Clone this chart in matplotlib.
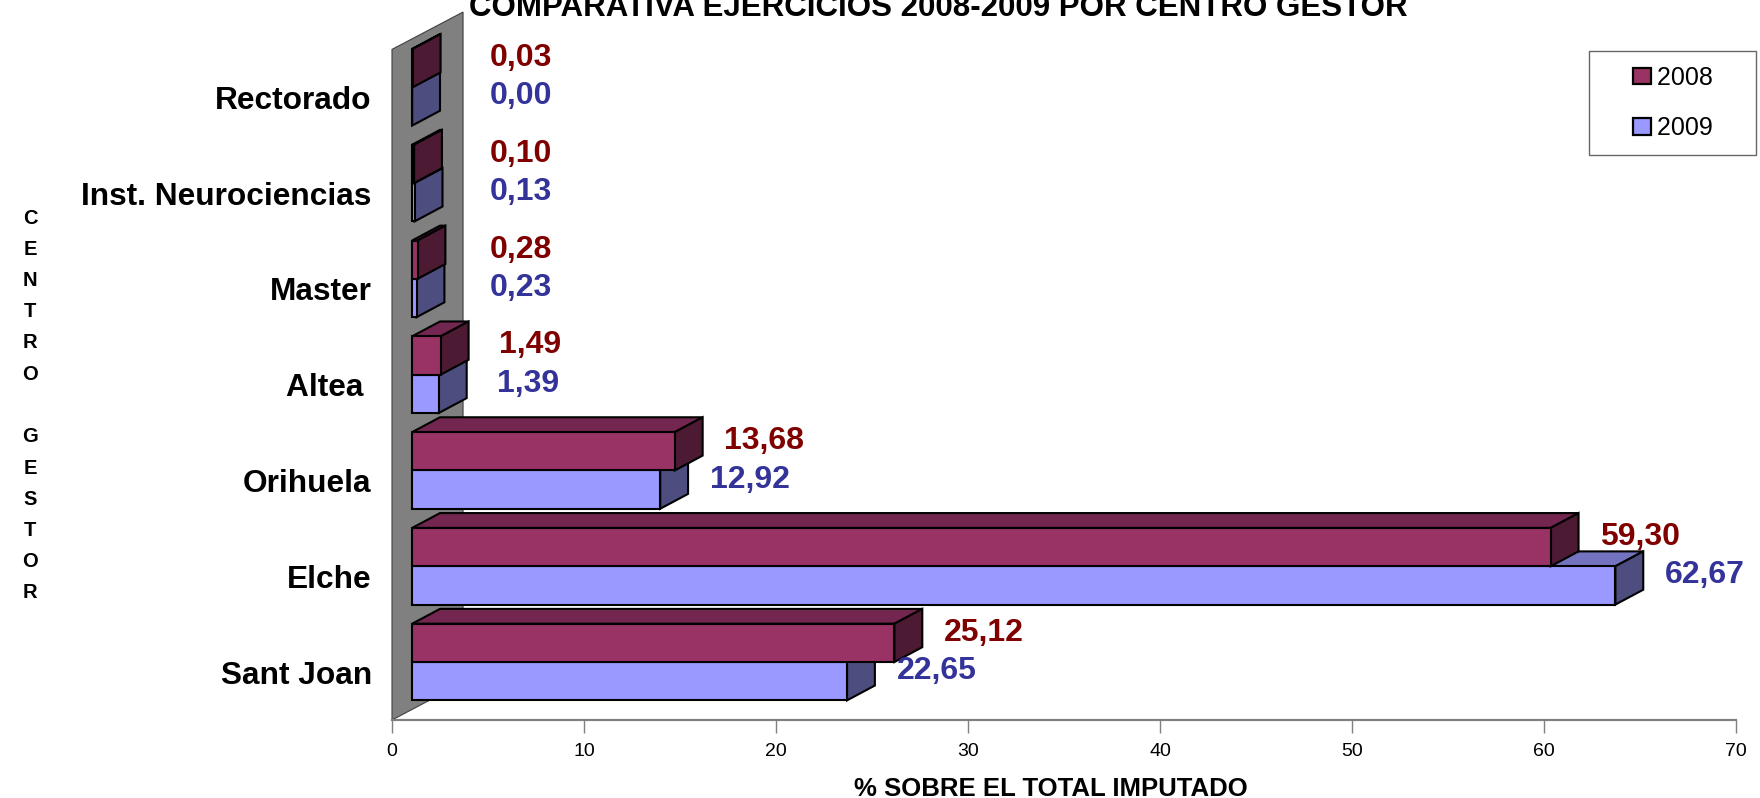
import numpy as np
import matplotlib.pyplot as plt
from matplotlib.patches import Rectangle, Polygon, Patch
from matplotlib.legend_handler import HandlerPatch

plt.rcParams["font.family"] = ["Liberation Sans", "DejaVu Sans"]

# datos (de arriba a abajo)
centros = ["Rectorado", "Inst. Neurociencias", "Master", "Altea ", "Orihuela", "Elche", "Sant Joan"]
v2008 = [0.03, 0.10, 0.28, 1.49, 13.68, 59.30, 25.12]
v2009 = [0.00, 0.13, 0.23, 1.39, 12.92, 62.67, 22.65]
anios = ["2008", "2009"]
xticks = [0, 10, 20, 30, 40, 50, 60, 70]

# colores: frente, techo, lateral
col08 = ("#993366", "#732650", "#4D1A33")
col09 = ("#9999FF", "#7373BF", "#4D4D80")
txt08 = "#800000"
txt09 = "#333399"

# profundidad 3D en unidades de datos
front_dx, front_dy = 1.05, 0.105
bar_dx, bar_dy = 1.45, 0.155
wall_dx, wall_dy = 3.7, 0.39
alto = 0.4

fig = plt.figure(figsize=(17.6, 7.98), dpi=100)
ax = fig.add_axes([392 / 1760, 78 / 798, 1344 / 1760, 670.6 / 798])
ax.set_xlim(0, 70)
ax.set_ylim(-0.5, 6.5)

# pared lateral
pared = Polygon([(0, -0.5), (0, 6.5), (wall_dx, 6.5 + wall_dy), (wall_dx, -0.5 + wall_dy)],
                closed=True, facecolor="#808080", edgecolor="#404040", lw=0.8, clip_on=False, zorder=1)
ax.add_patch(pared)


def barra3d(v, y0, cols):
    x0 = front_dx
    yb = y0 + front_dy
    kw = dict(edgecolor="black", lw=1.5, clip_on=False, zorder=3, joinstyle="miter")
    ax.add_patch(Polygon([(x0, yb + alto), (x0 + v, yb + alto), (x0 + v + bar_dx, yb + alto + bar_dy),
                          (x0 + bar_dx, yb + alto + bar_dy)], closed=True, facecolor=cols[1], **kw))
    ax.add_patch(Polygon([(x0 + v, yb), (x0 + v + bar_dx, yb + bar_dy), (x0 + v + bar_dx, yb + alto + bar_dy),
                          (x0 + v, yb + alto)], closed=True, facecolor=cols[2], **kw))
    ax.add_patch(Rectangle((x0, yb), v, alto, facecolor=cols[0], **kw))


def etiqueta(v, y, color):
    ax.text(max(v + 5.7, 6.7), y, f"{v:.2f}".replace(".", ","), color=color,
            fontsize=23, fontweight="bold", ha="center", va="center", zorder=5)


pos = np.arange(len(centros))[::-1]
for i, a, b in zip(pos, v2008, v2009):
    barra3d(b, i - alto, col09)
    barra3d(a, i, col08)
    etiqueta(a, i + 0.2 + 0.21, txt08)
    etiqueta(b, i - 0.2 + 0.21, txt09)

# ejes
for s in ["left", "right", "top"]:
    ax.spines[s].set_visible(False)
ax.spines["bottom"].set_color("#808080")
ax.spines["bottom"].set_linewidth(1.6)
ax.set_xticks(xticks)
ax.set_yticks(pos)
ax.set_yticklabels(centros, fontsize=22.8, fontweight="bold")
ax.tick_params(axis="y", length=0, pad=14.5)
ax.tick_params(axis="x", length=9.5, width=1, color="#808080", labelsize=14, pad=7)
ax.set_xlabel("% SOBRE EL TOTAL IMPUTADO", fontsize=18.5, fontweight="bold", labelpad=12)
ax.xaxis.label.set_x(0.49)

fig.text(938 / 1760, 1 - 16 / 798, "COMPARATIVA EJERCICIOS 2008-2009 POR CENTRO GESTOR",
         ha="center", va="baseline", fontsize=22.5, fontweight="bold")

# etiqueta vertical del eje y
for k, ch in enumerate("CENTRO GESTOR"):
    if ch != " ":
        fig.text(30 / 1760, 1 - (218 + k * 31.25) / 798, ch, ha="center", va="center",
                 fontsize=14.5, fontweight="bold")


def cuadro(legend, orig_handle, xdescent, ydescent, width, height, fontsize):
    s = 0.72 * fontsize
    return Rectangle((width - xdescent - s, -ydescent + (height - 0.9 * s) / 2), s, 0.9 * s)


handles = [Patch(facecolor=col08[0], edgecolor="black", lw=1.6, label=anios[0] + "    "),
           Patch(facecolor=col09[0], edgecolor="black", lw=1.6, label=anios[1] + "    ")]
leg = fig.legend(handles=handles, loc="upper right", bbox_to_anchor=(1756 / 1760, 1 - 51 / 798),
                 bbox_transform=fig.transFigure, borderaxespad=0, fontsize=18, frameon=True,
                 fancybox=False, borderpad=0.6, handlelength=1.9, handleheight=0.7,
                 handletextpad=0.24, labelspacing=1.05,
                 handler_map={Patch: HandlerPatch(patch_func=cuadro)})
leg.get_frame().set_edgecolor("#404040")
leg.get_frame().set_linewidth(1)

fig.savefig("out.png", dpi=100)
